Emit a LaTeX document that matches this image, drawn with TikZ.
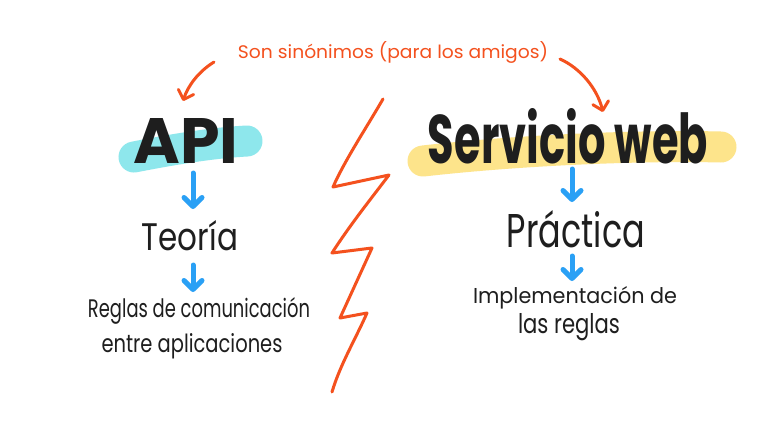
\documentclass[tikz,border=0pt]{standalone}
\usepackage{fontspec}
\setmainfont{Poppins}
\usetikzlibrary{arrows.meta}
\definecolor{accent}{HTML}{F4511E}
\definecolor{arrowblue}{HTML}{2AA0F5}
\definecolor{hlcyan}{HTML}{8EE7EC}
\definecolor{hlyellow}{HTML}{FDE48B}
\definecolor{ink}{HTML}{1E1E1E}
\newcommand{\fitwh}[3]{\resizebox{#1pt}{#2pt}{#3}}
\tikzset{
  lbl/.style={inner sep=0pt, text=ink, anchor=base},
  bluearrow/.style={draw=arrowblue, line width=5pt, line cap=round,
    -{Straight Barb[length=9pt, width=18pt, line width=5pt, line cap=round, round]}},
  redarrow/.style={draw=accent, line width=3pt, line cap=round,
    -{Straight Barb[length=8pt, width=16pt, line width=3pt, line cap=round, round]}},
  hl/.style={line width=31pt, line cap=round},
}
\begin{document}
\begin{tikzpicture}[x=1pt,y=-1pt]
\useasboundingbox[fill=white] (0,0) rectangle (768,432);
% highlights
\draw[hl, hlcyan] (134,157) .. controls (170,150) and (210,143) .. (247,141);
\draw[hl, hlyellow] (423,161) .. controls (520,150) and (640,145) .. (721,147);
% title
\node[lbl, text=accent] (title) at (393,58) {\fitwh{310}{17}{Son sinónimos (para los amigos)}};
\coordinate (tl) at (214,62);
\coordinate (tlend) at (183,101);
\coordinate (tr) at (560,59);
\coordinate (trend) at (603,112);
\draw[redarrow] (tl) .. controls (198,72) and (188,86) .. (tlend);
\draw[redarrow] (tr) .. controls (580,68) and (597,88) .. (trend);
% left column
\node[lbl] (api) at (186,163) {\fitwh{105}{45}{\bfseries API}};
\node[lbl] (teoria) at (190,250) {\fitwh{96}{30}{Teoría}};
\node[lbl] (reglas1) at (199,317) {\fitwh{222}{20}{Reglas de comunicación}};
\node[lbl] (reglas2) at (192,352) {\fitwh{181}{19}{entre aplicaciones}};
\coordinate (a1s) at (193,173);
\coordinate (a1e) at (193,209);
\coordinate (a2s) at (193,265);
\coordinate (a2e) at (193,292);
\draw[bluearrow] (a1s) -- (a1e);
\draw[bluearrow] (a2s) -- (a2e);
% right column
\node[lbl] (sw) at (568,163) {\fitwh{280}{55}{\bfseries Servicio web}};
\node[lbl] (practica) at (576,247) {\fitwh{138}{37}{Práctica}};
\node[lbl] (impl1) at (575,303) {\fitwh{204}{17}{Implementación de}};
\node[lbl] (impl2) at (569,333) {\fitwh{102}{20}{las reglas}};
\coordinate (b1s) at (572,169);
\coordinate (b1e) at (572,202);
\coordinate (b2s) at (572,256);
\coordinate (b2e) at (572,281);
\draw[bluearrow] (b1s) -- (b1e);
\draw[bluearrow] (b2s) -- (b2e);
% zigzag
\draw[accent, line width=3pt, line cap=round, line join=round]
  (383,99) .. controls (365,130) and (345,160) .. (333,187)
  -- (389,175)
  .. controls (370,200) and (350,225) .. (332,253)
  -- (372,248) -- (340,318) -- (367,313)
  .. controls (355,340) and (340,365) .. (332,392);
\end{tikzpicture}
\end{document}
